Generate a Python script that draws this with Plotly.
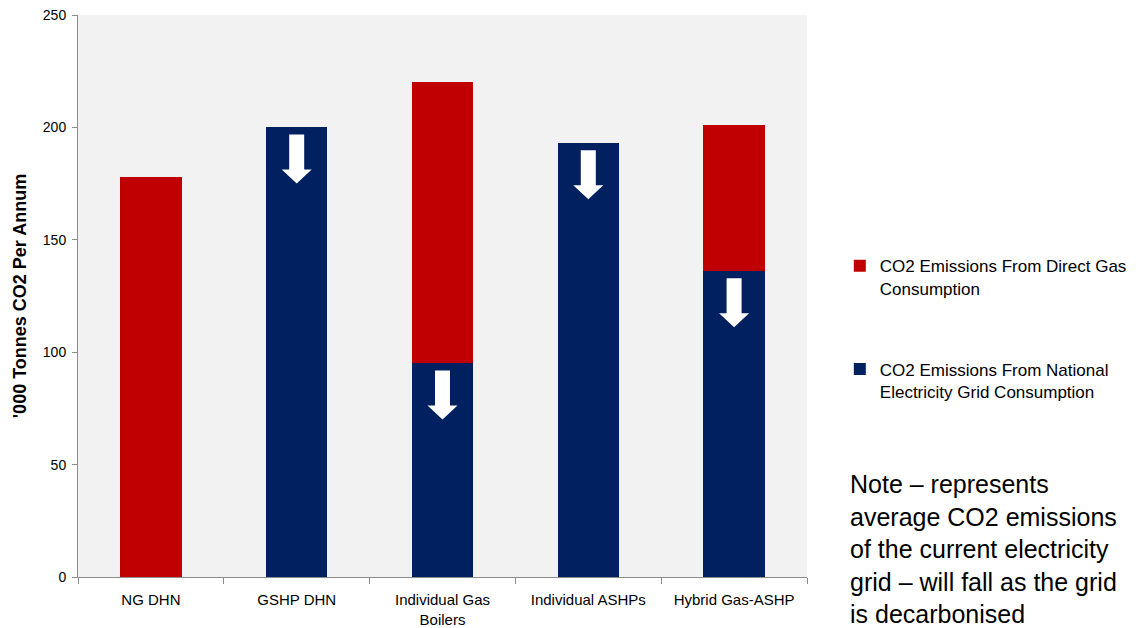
import plotly.graph_objects as go

categories = ["NG DHN", "GSHP DHN", "Individual Gas<br>Boilers", "Individual ASHPs", "Hybrid Gas-ASHP"]
grid_electricity = [0, 200, 95, 193, 136]
direct_gas = [178, 0, 125, 0, 65]
y_ticks = [0, 50, 100, 150, 200, 250]

RED = "#c00000"
BLUE = "#002060"
FONT = "Liberation Sans, Arial, sans-serif"

fig = go.Figure()
fig.add_trace(go.Bar(
    x=categories, y=grid_electricity,
    name="CO2 Emissions From National<br>Electricity Grid Consumption",
    marker=dict(color=BLUE, line=dict(width=0)),
    legendgroup="b", legendrank=2,
))
fig.add_trace(go.Bar(
    x=categories, y=direct_gas,
    name="CO2 Emissions From Direct Gas<br>Consumption",
    marker=dict(color=RED, line=dict(width=0)),
    legendgroup="a", legendrank=1,
))

# white down arrows at the top of each electricity-grid segment
arrow_path = "M -7.5,-7 L 7.5,-7 L 7.5,-42 L 15,-42 L 0,-56 L -15,-42 L -7.5,-42 Z"
for i, v in enumerate(grid_electricity):
    if v > 0:
        fig.add_shape(
            type="path", xref="x", yref="y",
            xsizemode="pixel", ysizemode="pixel",
            xanchor=i, yanchor=v,
            path=arrow_path,
            fillcolor="white", line=dict(width=0),
        )

fig.add_annotation(
    xref="paper", yref="paper", x=1.056, y=0.194, xanchor="left", yanchor="top",
    text="Note – represents<br>average CO2 emissions<br>of the current electricity<br>grid – will fall as the grid<br>is decarbonised",
    showarrow=False, align="left",
    font=dict(family=FONT, size=25, color="#000000"),
)

fig.update_layout(
    width=1128, height=620,
    barmode="stack", bargap=0.58,
    plot_bgcolor="#f2f2f2", paper_bgcolor="white",
    margin=dict(l=70, r=329, t=7, b=51, autoexpand=False),
    font=dict(family=FONT, color="#000000"),
    showlegend=True,
    legend=dict(
        x=1.045, y=0.585, xanchor="left", yanchor="top",
        traceorder="grouped", tracegroupgap=56, valign="top",
        font=dict(family=FONT, size=17, color="#000000"),
        itemwidth=30, bgcolor="rgba(0,0,0,0)",
    ),
    xaxis=dict(
        automargin=False,
        showline=True, linecolor="#8c8c8c", linewidth=1,
        ticks="outside", ticklen=6, tickcolor="#8c8c8c", tickson="boundaries",
        showgrid=False, tickfont=dict(family=FONT, size=15), ticklabelstandoff=9,
        ticklabeloverflow="allow",
    ),
    yaxis=dict(
        automargin=False,
        range=[0, 250], tickvals=y_ticks, showline=True, linecolor="#8c8c8c",
        linewidth=1, ticks="outside", ticklen=5, tickcolor="#8c8c8c",
        showgrid=False, zeroline=False, tickfont=dict(family=FONT, size=14),
        ticklabelstandoff=3, ticklabeloverflow="allow",
        title=dict(text="<b>'000 Tonnes CO2 Per Annum</b>", font=dict(family=FONT, size=18), standoff=11),
    ),
)

fig.write_html("out.html")
